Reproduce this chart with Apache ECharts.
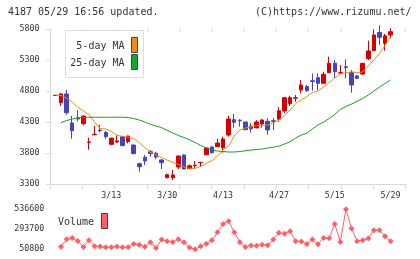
<!DOCTYPE html>
<html>
<head>
<meta charset="utf-8">
<script src="https://cdn.jsdelivr.net/npm/echarts@6/dist/echarts.min.js"></script>
<style>
  html, body { margin: 0; padding: 0; background: #fff; }
  #chart { width: 420px; height: 259px; }
</style>
</head>
<body>
<div id="chart"></div>
<script>
// 日付（取引日）
const dates = [
  '2/28',
  '3/2', '3/3', '3/4', '3/5', '3/6', '3/9', '3/10', '3/11', '3/12', '3/13',
  '3/16', '3/17', '3/18', '3/19', '3/23', '3/24', '3/25', '3/26', '3/27', '3/30', '3/31',
  '4/1', '4/2', '4/3', '4/6', '4/7', '4/8', '4/9', '4/10', '4/13', '4/14', '4/15', '4/16', '4/17',
  '4/20', '4/21', '4/22', '4/23', '4/24', '4/27', '4/28', '4/30',
  '5/1', '5/7', '5/8', '5/11', '5/12', '5/13', '5/14', '5/15',
  '5/18', '5/19', '5/20', '5/21', '5/22', '5/25', '5/26', '5/27', '5/28', '5/29'
];
const opens = [
  4728, 4611, 4752, 4284, 4365, 4273, 3970, 4095, 4170, 4130, 3940,
  3977, 4063, 3982, 3929, 3627, 3730, 3821, 3795, 3687, 3402, 3402,
  3574, 3768, 3547, 3595, 3645, 3773, 3897, 3902, 3886, 4090, 4337, 4330, 4300,
  4235, 4205, 4268, 4311, 4320, 4345, 4478, 4595,
  4685, 4816, 4870, 4965, 5015, 4924, 5095, 5247,
  5090, 5190, 5095, 5042, 5074, 5321, 5450, 5746, 5569, 5703
];
const closes = [
  4731, 4752, 4450, 4160, 4350, 4397, 3977, 4102, 4160, 4063, 4040,
  3995, 3918, 4074, 3789, 3579, 3671, 3790, 3735, 3643, 3450, 3445,
  3752, 3542, 3595, 3601, 3650, 3881, 3806, 3961, 4026, 4348, 4295, 4322, 4175,
  4190, 4300, 4332, 4171, 4308, 4480, 4692, 4692,
  4692, 4897, 4805, 4955, 4924, 5069, 5247, 5111,
  5095, 5180, 4897, 5005, 5247, 5445, 5703, 5665, 5690, 5757
];
const lows = [
  4728, 4558, 4418, 4031, 4311, 4247, 3853, 4085, 4130, 4031, 3925,
  3960, 3915, 3956, 3785, 3498, 3606, 3740, 3698, 3542, 3392, 3365,
  3542, 3540, 3545, 3542, 3580, 3770, 3790, 3900, 3806, 4063, 4208, 4225, 4170,
  4128, 4200, 4208, 4095, 4171, 4305, 4440, 4558,
  4627, 4763, 4790, 4805, 4816, 4920, 5090, 5005,
  5074, 5005, 4773, 4990, 5058, 5300, 5445, 5540, 5450, 5650
];
const highs = [
  4731, 4768, 4816, 4397, 4489, 4400, 4047, 4235, 4257, 4160, 4045,
  4085, 4075, 4078, 3935, 3643, 3768, 3848, 3821, 3703, 3466, 3526,
  3755, 3779, 3615, 3671, 3652, 3890, 3905, 4030, 4063, 4400, 4430, 4343, 4305,
  4285, 4330, 4350, 4360, 4362, 4540, 4695, 4724,
  4735, 4977, 4897, 5085, 5085, 5111, 5354, 5300,
  5219, 5311, 5139, 5060, 5250, 5611, 5795, 5860, 5720, 5811
];
// 5日移動平均
const ma5 = [
  4731, 4727, 4687, 4623, 4534, 4477, 4421, 4300, 4192, 4187, 4147,
  4085, 4069, 4058, 4034, 3969, 3889, 3816, 3768, 3727, 3687, 3647,
  3614, 3574, 3553, 3553, 3582, 3634, 3671, 3752, 3848, 3913, 4074, 4171, 4203,
  4224, 4244, 4244, 4252, 4284, 4332, 4405, 4494,
  4598, 4655, 4711, 4776, 4800, 4864, 4937, 5010,
  5074, 5095, 5111, 5095, 5106, 5203, 5300, 5405, 5534, 5671
];
// 25日移動平均
const ma25 = [
  '-', 4289, 4324, 4348, 4365, 4373, 4377, 4377, 4377, 4377, 4377,
  4377, 4377, 4373, 4356, 4332, 4300, 4263, 4235, 4211, 4163, 4123,
  4082, 4050, 4010, 3969, 3921, 3881, 3848, 3832, 3824, 3816, 3816, 3824, 3836,
  3848, 3856, 3864, 3881, 3894, 3910, 3945, 3982,
  4042, 4090, 4118, 4187, 4252, 4300, 4356, 4421,
  4502, 4550, 4590, 4634, 4679, 4735, 4800, 4864, 4921, 4977
];
// 出来高
const volumes = [
  '-', 82400, 172300, 188000, 151600, 78700, 161300, 88400, 84800, 76300, 76300,
  84800, 76300, 76300, 115200, 105500, 81200, 137000, 66600, 169800, 148000, 139500,
  173500, 137000, 71400, 50800, 88400, 118800, 161300, 257300, 358100, 392100, 257300, 137000, 78700,
  97000, 94500, 106700, 100600, 169800, 251200, 240300, 270600,
  149200, 145500, 115200, 169800, 111500, 189300, 185600, 358100,
  139500, 536600, 303400, 149200, 161300, 182000, 282800, 282800, 209900, 149200
];
const priceTicks = [3300, 3800, 4300, 4800, 5300, 5800];
const volumeTicks = [50800, 293700, 536600];

const candleData = dates.map((d, i) => [opens[i], closes[i], lows[i], highs[i]]);

const FONT = 'DejaVu Sans Mono';
const AXIS_GRAY = '#d9d9d9';
const UP = '#d40000';
const DOWN = '#4444bb';
const VOL = '#ff5f67';
const plain = (v) => String(v);

const chart = echarts.init(document.getElementById('chart'), null, { renderer: 'canvas' });

const option = {
  animation: false,
  backgroundColor: '#fff',
  grid: [
    { left: 50, right: 14.5, top: 29, bottom: 75 },
    { left: 52.7, right: 26.6, top: 29, bottom: 75 },
    { left: 52.7, right: 26.6, top: 209.3, bottom: 9.7 }
  ],
  xAxis: [
    {
      gridIndex: 0, type: 'value', min: 0, max: 11, interval: 1,
      axisLine: { lineStyle: { color: AXIS_GRAY } },
      axisTick: { length: 5, lineStyle: { color: AXIS_GRAY } },
      axisLabel: { show: false }, splitLine: { show: false }
    },
    {
      gridIndex: 0, type: 'value', min: 0, max: 11, interval: 1,
      axisLine: { show: false },
      axisTick: { inside: true, length: 3, lineStyle: { color: AXIS_GRAY } },
      axisLabel: { show: false }, splitLine: { show: false }
    },
    {
      gridIndex: 1, type: 'category', data: dates, boundaryGap: true,
      axisLine: { show: false }, axisTick: { show: false }, splitLine: { show: false },
      axisLabel: {
        interval: (idx) => idx > 0 && idx % 10 === 0,
        margin: 8, fontFamily: FONT, fontSize: 8.3, color: '#333'
      }
    },
    {
      gridIndex: 2, type: 'category', data: dates, boundaryGap: true, show: false
    }
  ],
  yAxis: [
    {
      gridIndex: 0, type: 'value', min: 3300, max: 5800,
      axisLine: { show: true, lineStyle: { color: AXIS_GRAY } },
      axisTick: { show: true, length: 4, customValues: priceTicks, lineStyle: { color: AXIS_GRAY } },
      axisLabel: { customValues: priceTicks, formatter: plain, margin: 10.5, fontFamily: FONT, fontSize: 8.3, color: '#333' },
      splitLine: { show: false }
    },
    {
      gridIndex: 0, type: 'value', min: 3300, max: 5800,
      axisLine: { show: false },
      axisTick: { show: true, inside: true, length: 3.5, customValues: priceTicks, lineStyle: { color: AXIS_GRAY } },
      axisLabel: { show: false }, splitLine: { show: false }
    },
    { gridIndex: 1, type: 'value', min: 3300, max: 5800, show: false },
    {
      gridIndex: 2, type: 'value', min: 50800, max: 536600,
      axisLine: { show: false }, axisTick: { show: false }, splitLine: { show: false },
      axisLabel: { customValues: volumeTicks, formatter: plain, margin: 8.4, fontFamily: FONT, fontSize: 8.3, color: '#333' }
    }
  ],
  series: [
    {
      type: 'candlestick', xAxisIndex: 2, yAxisIndex: 2,
      data: candleData, barWidth: 4,
      itemStyle: { color: UP, color0: DOWN, borderColor: UP, borderColor0: DOWN, borderWidth: 1 }
    },
    {
      name: '5-day MA', type: 'line', xAxisIndex: 2, yAxisIndex: 2, data: ma5,
      symbol: 'none', lineStyle: { color: '#f08c0a', width: 1 }, z: 3
    },
    {
      name: '25-day MA', type: 'line', xAxisIndex: 2, yAxisIndex: 2, data: ma25,
      symbol: 'none', lineStyle: { color: '#1aa01a', width: 1 }, z: 3
    },
    {
      name: 'Volume', type: 'line', xAxisIndex: 3, yAxisIndex: 3, data: volumes,
      symbol: 'diamond', symbolSize: 6, showAllSymbol: true,
      itemStyle: { color: VOL }, lineStyle: { color: VOL, width: 1 }
    }
  ],
  graphic: [
    { type: 'text', left: 8, top: 7, style: { text: '4187 05/29 16:56 updated.', font: '10px "DejaVu Sans Mono"', fill: '#333' } },
    { type: 'text', left: 255, top: 7, style: { text: '(C)https://www.rizumu.net/', font: '10px "DejaVu Sans Mono"', fill: '#333' } },
    // price legend
    { type: 'rect', shape: { x: 65.5, y: 30.5, width: 78, height: 47 }, style: { fill: '#fff', stroke: '#ddd', lineWidth: 1 }, z: 10 },
    { type: 'text', x: 124.5, y: 46, style: { text: '5-day MA', font: '10px "DejaVu Sans Mono"', fill: '#333', align: 'right', verticalAlign: 'middle' }, z: 11 },
    { type: 'text', x: 124.5, y: 63, style: { text: '25-day MA', font: '10px "DejaVu Sans Mono"', fill: '#333', align: 'right', verticalAlign: 'middle' }, z: 11 },
    { type: 'rect', shape: { x: 131.5, y: 37.5, width: 6, height: 15 }, style: { fill: '#f08c16', stroke: '#444', lineWidth: 1 }, z: 11 },
    { type: 'rect', shape: { x: 131.5, y: 54.5, width: 6, height: 15 }, style: { fill: '#17a52b', stroke: '#444', lineWidth: 1 }, z: 11 },
    // volume legend
    { type: 'text', x: 58, y: 222, style: { text: 'Volume', font: '10px "DejaVu Sans Mono"', fill: '#333', verticalAlign: 'middle' }, z: 11 },
    { type: 'rect', shape: { x: 101.5, y: 213.5, width: 6, height: 15 }, style: { fill: VOL, stroke: '#444', lineWidth: 1 }, z: 11 }
  ]
};

chart.setOption(option);
window.addEventListener('resize', () => chart.resize());
</script>
</body>
</html>
